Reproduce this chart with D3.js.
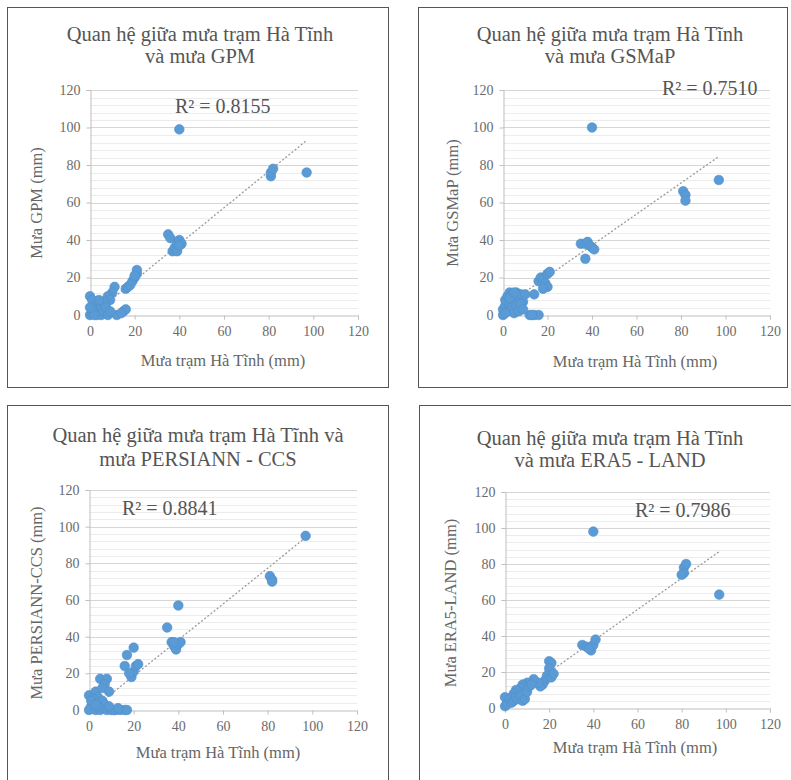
<!DOCTYPE html>
<html><head><meta charset="utf-8">
<script src="https://cdn.jsdelivr.net/npm/d3@7"></script>
<style>body{margin:0;background:#fff}svg{display:block}svg text{font-family:"Liberation Serif",serif}</style>
</head><body>
<script>
// ---- data ----
const xTicks = [0, 20, 40, 60, 80, 100, 120];
const yTicks = [0, 20, 40, 60, 80, 100, 120];
const xAxisTitle = "Mưa trạm Hà Tĩnh (mm)";

const titles = [
  ["Quan hệ giữa mưa trạm Hà Tĩnh", "và mưa GPM"],
  ["Quan hệ giữa mưa trạm Hà Tĩnh", "và mưa GSMaP"],
  ["Quan hệ giữa mưa trạm Hà Tĩnh và", "mưa PERSIANN - CCS"],
  ["Quan hệ giữa mưa trạm Hà Tĩnh", "và mưa ERA5 - LAND"]
];
const yTitles = ["Mưa GPM (mm)", "Mưa GSMaP (mm)", "Mưa PERSIANN-CCS (mm)", "Mưa ERA5-LAND (mm)"];
const r2Labels = ["R² = 0.8155", "R² = 0.7510", "R² = 0.8841", "R² = 0.7986"];
// trendline coefficients: [slope, intercept]
const trendSlope = [0.97, 0.83, 0.98, 0.87];
const trendIntercept = [-1, 4, -1, 2.5];
const trendRange = [0, 97];

const gpm = [
  [40,99],[81,74],[81,76],[82,78],[97,76],
  [35,43],[36,41],[37,34],[38,36],[39,38],[40,40],[41,38],[39,34],[40,37],
  [16,14],[17,15],[18,16],[19,18],[20,20],[21,22],[21,24],[20,21],
  [12,0],[15,2],[16,3],[14,1],
  [11,15],[10,12],[8,10],[9,8],[7,6],
  [0,10],[1,8],[2,5],[3,3],[0,0],[1,1],[2,2],[4,6],[5,4],[6,7],[3,0],[5,0],[6,2],[7,4],[8,0],[9,2],[4,8],[1,3],[2,0],[0,4]
];
const gsmap = [
  [40,100],[81,66],[82,64],[82,61],[97,72],
  [35,38],[37,38],[38,39],[39,37],[40,36],[41,35],[37,30],
  [16,18],[17,20],[18,19],[19,17],[20,22],[21,23],[20,15],[18,14],
  [14,11],[12,0],[14,0],[16,0],[13,0],
  [0,0],[0,3],[1,5],[1,8],[2,10],[3,12],[4,11],[5,9],[6,12],[7,10],[8,11],[9,7],[10,11],[2,2],[3,6],[4,4],[5,1],[6,5],[7,2],[8,6],[3,9],[1,1],[5,12],[9,3]
];
const persiann = [
  [97,95],[81,73],[82,71],[82,70],
  [40,57],[35,45],[37,37],[38,35],[39,33],[40,36],[41,37],[38,37],
  [16,24],[17,30],[20,34],[19,18],[20,21],[21,24],[22,25],[18,20],
  [0,8],[3,10],[5,17],[8,17],[7,14],[6,12],[9,10],[4,7],[2,4],[1,2],[0,0],[3,0],[5,0],[8,0],[10,0],[12,0],[14,0],[16,0],[17,0],[11,0],[6,5],[7,3],[2,6],[4,2],[9,2],[1,5],[3,3],[13,1]
];
const era5 = [
  [40,98],[81,78],[82,80],[81,75],[80,74],[97,63],
  [35,35],[37,34],[39,32],[40,35],[41,38],[38,33],
  [20,26],[21,25],[20,22],[19,18],[18,15],[17,13],[16,12],[21,17],[22,19],[15,14],[13,16],
  [10,14],[8,13],[9,12],[7,11],[6,9],[5,10],[4,8],[3,6],[2,4],[1,3],[0,1],[0,6],[1,2],[2,5],[3,3],[4,4],[5,6],[6,5],[7,7],[8,4],[9,5],[10,9],[11,12],[12,13]
];
const seriesList = [gpm, gsmap, persiann, era5];

// ---- layout ----
const layouts = [
  {box:[7,7,381,380],   plot:[90,358,90,315],   tx:200, ty:[41,63],   r2:[175,113], xt:[223,366], yt:[36,203]},
  {box:[418,7,369,380], plot:[503,770,90,315],  tx:610, ty:[41,63],   r2:[662,95],  xt:[635,367], yt:[452,203]},
  {box:[7,405,381,390], plot:[89,357,490,710],  tx:198, ty:[442,466], r2:[122,515], xt:[218,758], yt:[36,603]},
  {box:[419,405,372,390],plot:[505,770,492,708],tx:610, ty:[445,467], r2:[635,517], xt:[635,753], yt:[450,603]}
];

const svg = d3.select("body").append("svg").attr("width", 791).attr("height", 780);

layouts.forEach((L, i) => {
  const g = svg.append("g");
  g.append("rect").attr("x", L.box[0] + 0.5).attr("y", L.box[1] + 0.5)
    .attr("width", L.box[2]).attr("height", L.box[3])
    .attr("fill", "#fff").attr("stroke", "#555").attr("stroke-width", 1);

  const x = d3.scaleLinear().domain([0, 120]).range([L.plot[0], L.plot[1]]);
  const y = d3.scaleLinear().domain([0, 120]).range([L.plot[3], L.plot[2]]);

  // minor gridlines
  const minor = d3.range(0, 121, 4).filter(v => v % 20 !== 0);
  g.append("g").selectAll("line").data(minor).join("line")
    .attr("x1", L.plot[0]).attr("x2", L.plot[1])
    .attr("y1", d => Math.round(y(d)) + 0.5).attr("y2", d => Math.round(y(d)) + 0.5)
    .attr("stroke", "#ececec").attr("stroke-width", 1);
  // major gridlines
  g.append("g").selectAll("line").data(yTicks.filter(v => v > 0)).join("line")
    .attr("x1", L.plot[0]).attr("x2", L.plot[1])
    .attr("y1", d => Math.round(y(d)) + 0.5).attr("y2", d => Math.round(y(d)) + 0.5)
    .attr("stroke", "#d6d6d6").attr("stroke-width", 1);

  // axes
  const xa = g.append("g").attr("transform", `translate(0,${Math.round(y(0)) + 0.5})`)
    .call(d3.axisBottom(x).tickValues(xTicks).tickSize(4).tickPadding(7));
  const ya = g.append("g").attr("transform", `translate(${Math.round(x(0)) + 0.5},0)`)
    .call(d3.axisLeft(y).tickValues(yTicks).tickSize(4).tickPadding(6));
  [xa, ya].forEach(a => {
    a.attr("font-family", null).attr("font-size", null);
    a.select(".domain").attr("stroke", "#bfbfbf");
    a.selectAll(".tick line").attr("stroke", "#bfbfbf");
    a.selectAll("text").attr("fill", "#6b6b6b").style("font-size", "14px");
  });

  // trendline
  const s = trendSlope[i], b = trendIntercept[i];
  g.append("line")
    .attr("x1", x(trendRange[0])).attr("y1", y(s * trendRange[0] + b))
    .attr("x2", x(trendRange[1])).attr("y2", y(s * trendRange[1] + b))
    .attr("stroke", "#9a9a9a").attr("stroke-width", 1.3).attr("stroke-dasharray", "2,2");

  // points
  g.append("g").selectAll("circle").data(seriesList[i]).join("circle")
    .attr("cx", d => x(d[0])).attr("cy", d => y(d[1])).attr("r", 4.8)
    .attr("fill", "#5b9bd5").attr("stroke", "#4f8fcb").attr("stroke-width", 0.6);

  // titles
  titles[i].forEach((t, k) => {
    g.append("text").attr("x", L.tx).attr("y", L.ty[k]).attr("text-anchor", "middle")
      .attr("fill", "#555").style("font-size", "20.5px").text(t);
  });
  // R2
  g.append("text").attr("x", L.r2[0]).attr("y", L.r2[1])
    .attr("fill", "#555").style("font-size", "20px").text(r2Labels[i]);
  // axis titles
  g.append("text").attr("x", L.xt[0]).attr("y", L.xt[1]).attr("text-anchor", "middle")
    .attr("fill", "#666").style("font-size", "16.5px").text(xAxisTitle);
  g.append("text").attr("transform", `translate(${L.yt[0]},${L.yt[1]}) rotate(-90)`)
    .attr("text-anchor", "middle").attr("dy", "0.35em")
    .attr("fill", "#666").style("font-size", "16.5px").text(yTitles[i]);
});
</script>
</body></html>
